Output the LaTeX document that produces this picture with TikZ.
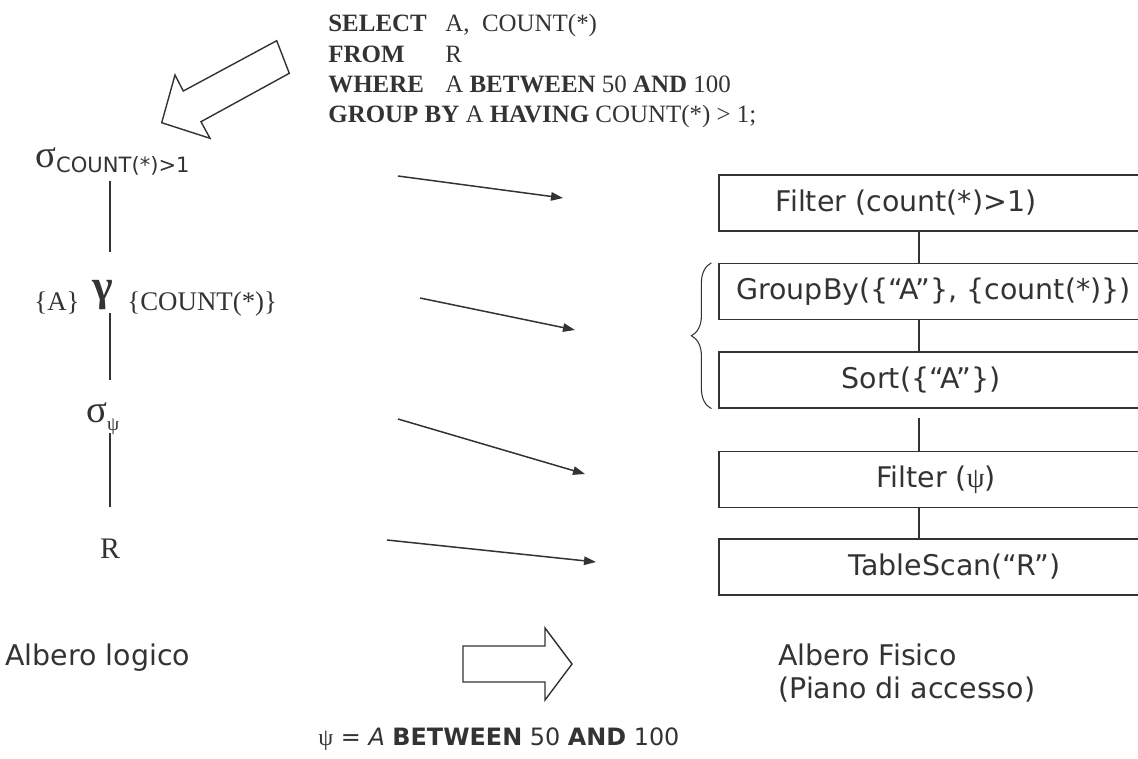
\documentclass[tikz,border=0pt]{standalone}
\usepackage{fontspec}
\setmainfont{Liberation Serif}
\newfontfamily\comic{DejaVu Sans}
\usetikzlibrary{arrows.meta,calc,decorations.pathreplacing}

\definecolor{ink}{HTML}{333333}

\tikzstyle{opbox} = [rectangle, draw=ink, line width=0.75pt, minimum width=8.42cm,
                     minimum height=1.12cm, inner sep=0pt, text centered, text=ink,
                     font=\comic\fontsize{16.2}{19}\selectfont]
\tikzstyle{arrow} = [ink, line width=0.85pt, -{Triangle[length=0.24cm,width=0.17cm]}]
\tikzstyle{line} = [ink, line width=0.6pt]
\tikzstyle{tline} = [ink, line width=1.1pt]
\tikzstyle{hollow} = [draw=ink, fill=white, line width=0.8pt, line join=miter]
\tikzstyle{sql} = [anchor=base west, inner sep=0pt, text=ink,
                   font=\fontsize{14.2}{17}\selectfont]
\tikzstyle{greek} = [anchor=base west, inner sep=0pt, text=ink,
                     font=\fontsize{22}{24}\selectfont]
\tikzstyle{setlbl} = [inner sep=0pt, text=ink, font=\fontsize{15.3}{18}\selectfont]
\tikzstyle{lbl} = [anchor=base west, inner sep=0pt, text=ink,
                   font=\comic\fontsize{16.2}{18.7}\selectfont]

\newcommand{\kw}[1]{\makebox[2.34cm][l]{\textbf{#1}}}
\newcommand{\nudge}[2]{\hspace*{#1}#2}

\begin{document}
\begin{tikzpicture}[x=0.02cm, y=-0.02cm]
  \useasboundingbox (0,0) rectangle (1138,758);
  \clip (0,0) rectangle (1138,758);
  %query
  \node (sel) [sql] at (328,31) {\kw{SELECT}A,\ \ COUNT(*)};
  \node (from) [sql] at (328,62) {\kw{FROM}R};
  \node (where) [sql] at (328,92) {\kw{WHERE}A \textbf{BETWEEN} 50 \textbf{AND} 100};
  \node (group) [sql] at (328,122) {\textbf{GROUP BY} A \textbf{HAVING} COUNT(*) > 1;};
  % query -> logical tree
  \draw [hollow] (276.7,40.7) -- (289.3,73.3) -- (201,121.7) -- (210,138.3)
    -- (161.7,122.7) -- (175,75) -- (183.3,91) -- cycle;
  %logical tree
  \node (sig1) [greek] at (35,167)
    {σ\raisebox{-0.1cm}{\comic\fontsize{12}{14}\selectfont COUNT(*)>1}};
  \node (gam) [anchor=base, inner sep=0pt, text=ink,
               font=\bfseries\fontsize{25}{28}\selectfont] at (103,300) {γ};
  \node (aset) [setlbl, anchor=base east] at (80,310) {\{A\}};
  \node (cset) [setlbl, anchor=base west] at (127,310) {\{COUNT(*)\}};
  \node (sigp) [greek] at (86,422) {σ\raisebox{-0.16cm}{\fontsize{11}{13}\selectfont ψ}};
  \node (rel) [anchor=base, inner sep=0pt, text=ink,
               font=\fontsize{17}{19}\selectfont] at (110,558) {R};
  \coordinate (tspine) at (110,0);
  \draw [tline] ($(sig1.base -| tspine)+(0,14)$) -- ($(gam.base -| tspine)+(0,-48)$);
  \draw [tline] ($(gam.base -| tspine)+(0,13)$) -- ($(sigp.base -| tspine)+(0,-42)$);
  \draw [tline] ($(sigp.base -| tspine)+(0,11)$) -- ($(rel.base -| tspine)+(0,-51)$);
  %physical plan
  \node (filt) [opbox] at (929.5,203) {\nudge{-0.94cm}{Filter (count(*)>1)}};
  \node (grp) [opbox] at (929.5,291.5) {\nudge{0.16cm}{GroupBy(\{“A”\}, \{count(*)\})}};
  \node (srt) [opbox] at (929.5,380) {\nudge{-0.34cm}{Sort(\{“A”\})}};
  \node (fpsi) [opbox] at (929.5,479.5) {\nudge{0.26cm}{Filter ({\rmfamily ψ})}};
  \node (scan) [opbox] at (929.5,567) {\nudge{1cm}{TableScan(“R”)}};
  \coordinate (pspine) at (919,0);
  \draw [line] (filt.south -| pspine) -- (grp.north -| pspine);
  \draw [line] (grp.south -| pspine) -- (srt.north -| pspine);
  \draw [line, shorten <=0.18cm] (srt.south -| pspine) -- (fpsi.north -| pspine);
  \draw [line] (fpsi.south -| pspine) -- (scan.north -| pspine);
  \draw [line, decorate, decoration={brace, amplitude=0.4cm}]
    ($(srt.south west)+(-7,0)$) -- ($(grp.north west)+(-7,0)$);
  % logical -> physical
  \coordinate (from1) at (398,176);  \coordinate (to1) at (563,198);
  \coordinate (from2) at (420,298);  \coordinate (to2) at (575,330);
  \coordinate (from3) at (398,419);  \coordinate (to3) at (585,474);
  \coordinate (from4) at (387,540);  \coordinate (to4) at (596,562);
  \foreach \i in {1,...,4}
    \draw [arrow] (from\i) -- (to\i);
  %captions
  \node (logic) [lbl] at (5,665) {Albero logico};
  \draw [hollow] (463,646) -- (545,646) -- (545,628) -- (572,664) -- (545,700)
    -- (545,682) -- (463,682) -- cycle;
  \node (phys) [lbl, align=left] at (778,698) {Albero Fisico\\(Piano di accesso)};
  \node (psi) [anchor=base west, inner sep=0pt, text=ink,
               font=\comic\fontsize{13.6}{16}\selectfont] at (318,745)
    {{\rmfamily ψ} = \textit{A} \textbf{BETWEEN} 50 \textbf{AND} 100};
\end{tikzpicture}
\end{document}
